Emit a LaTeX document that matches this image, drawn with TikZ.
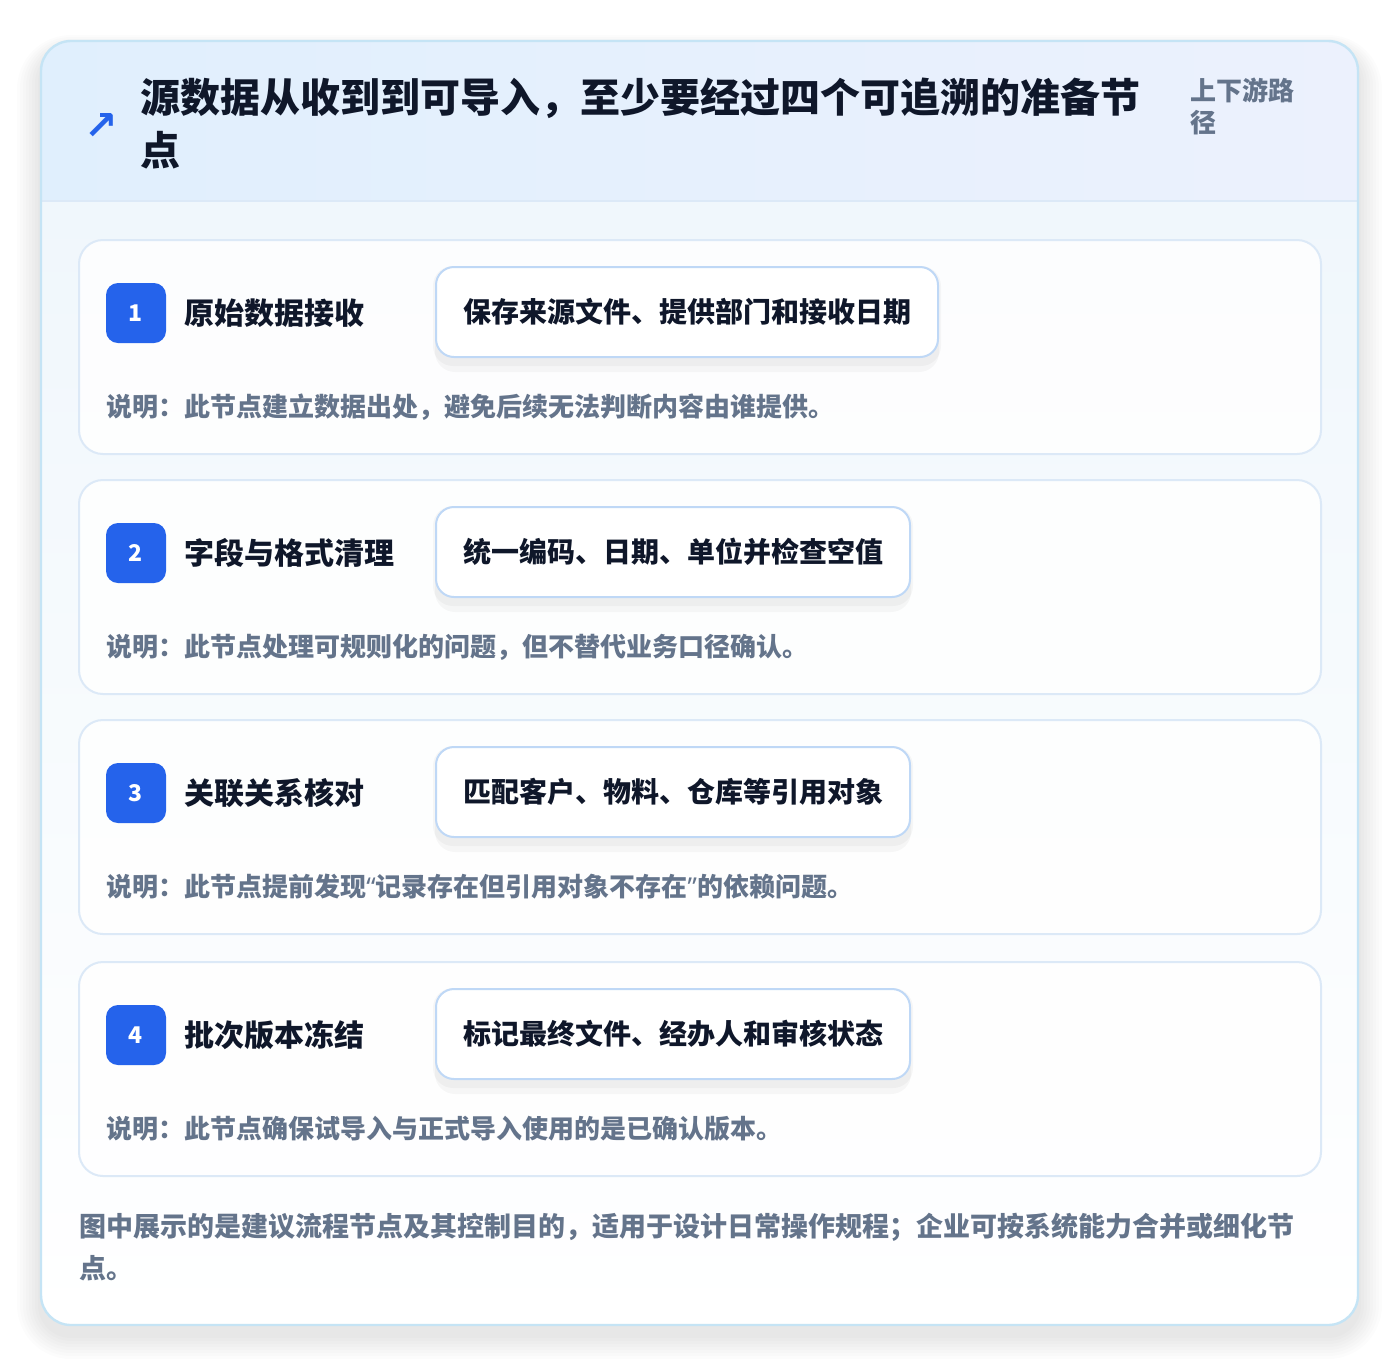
\documentclass[tikz,border=0pt]{standalone}
\usepackage{fontspec}
\setmainfont{Noto Sans CJK SC}
\newfontfamily\symfont{DejaVu Sans}
\newfontfamily\latinfont{Noto Sans}
\usetikzlibrary{shadows.blur}
\definecolor{ink}{HTML}{0F172A}
\definecolor{muted}{HTML}{64748B}
\definecolor{accent}{HTML}{2563EB}
\definecolor{outerline}{HTML}{C5E4F5}
\definecolor{cardline}{HTML}{DCE9F7}
\definecolor{pillline}{HTML}{BFD8F6}
\definecolor{headL}{HTML}{E0EFFD}
\definecolor{headR}{HTML}{ECF1FD}
\definecolor{bodyT}{HTML}{F0F7FC}
\tikzset{
  card/.style={draw=cardline, line width=1pt, fill=white, fill opacity=0.85, rounded corners=12pt, minimum width=621pt, minimum height=107pt, inner sep=0pt},
  badge/.style={fill=accent, rounded corners=6pt, minimum width=30pt, minimum height=30pt, inner sep=0pt, text=white, font=\bfseries\fontsize{11.5}{13}\selectfont},
  steptitle/.style={anchor=west, inner sep=0pt, text=ink, font=\bfseries\fontsize{15}{18}\selectfont},
  pill/.style={anchor=west, draw=pillline, line width=1pt, fill=white, rounded corners=9pt, minimum height=45pt, inner xsep=13.5pt, text=ink, font=\bfseries\fontsize{14}{17}\selectfont},
  pillshadow/.style={fill=black, fill opacity=0.03, rounded corners=10pt},
  desc/.style={anchor=west, inner sep=0pt, text=muted, font=\bfseries\fontsize{13}{15}\selectfont},
  foot/.style={anchor=west, inner sep=0pt, text=muted, font=\bfseries\fontsize{13.5}{17}\selectfont},
  title/.style={anchor=west, inner sep=0pt, text=ink, font=\bfseries\fontsize{20}{24}\selectfont},
}
\begin{document}
\begin{tikzpicture}[x=0.5pt,y=-0.5pt]
\useasboundingbox (0,0) rectangle (1400,1366);
\fill[white] (0,0) rectangle (1400,1366);
% soft shadow of the outer card
\foreach \k in {1,...,8}{
  \fill[black, fill opacity=0.012, rounded corners=15pt+\k*1.5pt] (41-\k*3,41-\k*2+10) rectangle (1358+\k*3,1325+\k*3+10);
}
\fill[white, rounded corners=15pt] (41,41) rectangle (1358,1325);
\begin{scope}
\clip[rounded corners=15pt] (41,41) rectangle (1358,1325);
\shade[left color=headL, right color=headR] (41,41) rectangle (1358,201);
\shade[top color=bodyT, bottom color=white] (41,201) rectangle (1358,1325);
\draw[cardline, line width=1pt] (41,201) -- (1358,201);
\end{scope}
\draw[outerline, line width=1.2pt, rounded corners=15pt] (41,41) rectangle (1358,1325);
% header
\node[inner sep=0pt, text=accent, font=\symfont\bfseries\fontsize{20}{20}\selectfont] (icon) at (101,126) {↗};
\node[title] (t1) at (140,98) {源数据从收到到可导入，至少要经过四个可追溯的准备节};
\node[title] (t2) at (140,150) {点};
\node[anchor=west, inner sep=0pt, text=muted, font=\bfseries\fontsize{13}{15}\selectfont] (side1) at (1190,90) {上下游路};
\node[anchor=west, inner sep=0pt, text=muted, font=\bfseries\fontsize{13}{15}\selectfont] (side2) at (1190,123) {径};
% cards
\foreach \i/\top/\name/\pilltext/\desctext in {
  1/239/原始数据接收/保存来源文件、提供部门和接收日期/说明：此节点建立数据出处，避免后续无法判断内容由谁提供。,
  2/479/字段与格式清理/统一编码、日期、单位并检查空值/说明：此节点处理可规则化的问题，但不替代业务口径确认。,
  3/719/关联关系核对/匹配客户、物料、仓库等引用对象/说明：此节点提前发现{\latinfont “}记录存在但引用对象不存在{\latinfont ”}的依赖问题。,
  4/961/批次版本冻结/标记最终文件、经办人和审核状态/说明：此节点确保试导入与正式导入使用的是已确认版本。}{
  \node[card, anchor=north] (card\i) at (700,\top) {};
  \node[badge] (badge\i) at (136,\top+74) {\i};
  \node[steptitle] (title\i) at (184,\top+74) {\name};
  \node[pill, opacity=0] (ghost\i) at (435,\top+73) {\pilltext};
  \fill[pillshadow] ([xshift=-1pt,yshift=-4pt]ghost\i.south west) rectangle ([xshift=1pt,yshift=0pt]ghost\i.north east);
  \fill[pillshadow] ([xshift=0pt,yshift=-7pt]ghost\i.south west) rectangle ([xshift=0pt,yshift=-2pt]ghost\i.north east);
  \node[pill] (pill\i) at (435,\top+73) {\pilltext};
  \node[desc] (desc\i) at (106,\top+168) {\desctext};
}
% footer
\node[foot] (f1) at (79,1227) {图中展示的是建议流程节点及其控制目的，适用于设计日常操作规程；企业可按系统能力合并或细化节};
\node[foot] (f2) at (79,1268) {点。};
\end{tikzpicture}
\end{document}
